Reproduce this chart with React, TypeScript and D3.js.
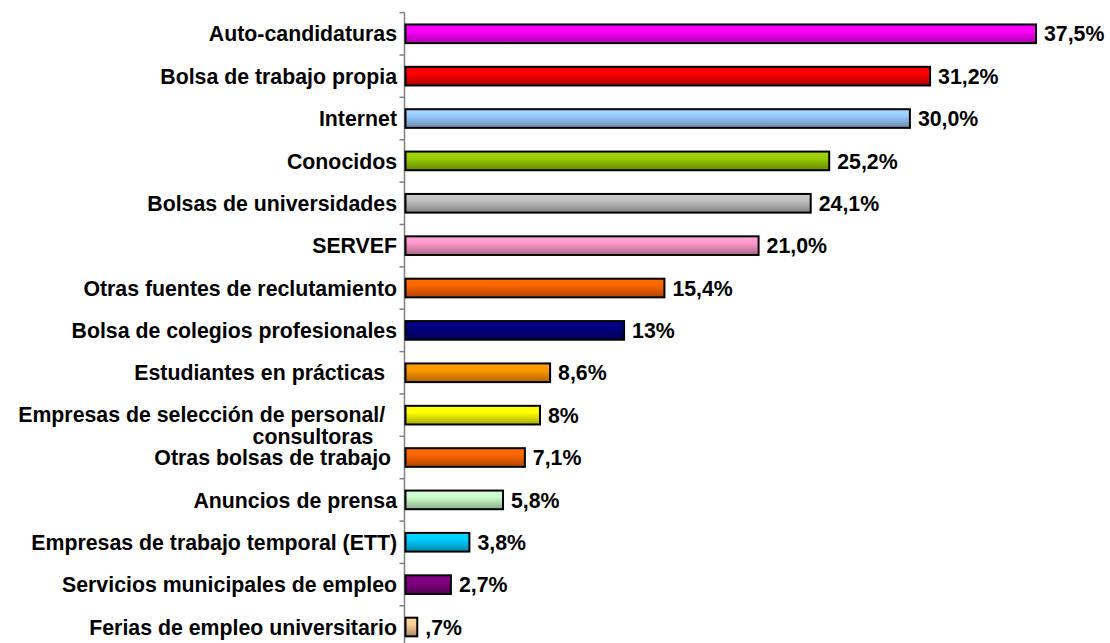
import React, { useRef, useEffect } from 'react';
import * as d3 from 'd3';

const WIDTH = 1110;
const HEIGHT = 643;

const categories = [
  'Auto-candidaturas',
  'Bolsa de trabajo propia',
  'Internet',
  'Conocidos',
  'Bolsas de universidades',
  'SERVEF',
  'Otras fuentes de reclutamiento',
  'Bolsa de colegios profesionales',
  'Estudiantes en prácticas  ',
  'Empresas de selección de personal/  \nconsultoras    ',
  'Otras bolsas de trabajo ',
  'Anuncios de prensa',
  'Empresas de trabajo temporal (ETT)',
  'Servicios municipales de empleo',
  'Ferias de empleo universitario',
];

const values = [37.5, 31.2, 30.0, 25.2, 24.1, 21.0, 15.4, 13, 8.6, 8, 7.1, 5.8, 3.8, 2.7, 0.7];

const valueLabels = [
  '37,5%', '31,2%', '30,0%', '25,2%', '24,1%', '21,0%', '15,4%', '13%',
  '8,6%', '8%', '7,1%', '5,8%', '3,8%', '2,7%', ',7%',
];

const colors = [
  '#ff00ff', '#ff0000', '#99ccff', '#99cc00', '#c0c0c0', '#ff99cc', '#ff6600',
  '#000080', '#ff9900', '#ffff00', '#ff6600', '#ccffcc', '#00ccff', '#800080', '#ffcc99',
];

const FONT = '"Liberation Sans", Arial, sans-serif';
const FS = 21.3;

export default function App() {
  const svgRef = useRef<SVGSVGElement>(null);

  useEffect(() => {
    const svg = d3.select(svgRef.current);
    svg.selectAll('*').remove();

    const x = d3.scaleLinear().domain([0, 37.5]).range([405.5, 1036]);
    const y = d3.scaleBand<number>()
      .domain(d3.range(categories.length))
      .range([12.6, 648.2])
      .paddingInner(0.56)
      .paddingOuter(0.28);
    const step = y.step();

    const defs = svg.append('defs');
    colors.forEach((c, i) => {
      const grad = defs.append('linearGradient')
        .attr('id', `g${i}`).attr('x1', 0).attr('y1', 0).attr('x2', 0).attr('y2', 1);
      const base = d3.color(c)!;
      grad.append('stop').attr('offset', '0%').attr('stop-color', base.brighter(0.2).formatHex());
      grad.append('stop').attr('offset', '35%').attr('stop-color', c);
      grad.append('stop').attr('offset', '100%').attr('stop-color', base.darker(1.1).formatHex());
    });

    // axis line and ticks
    const axis = svg.append('g');
    axis.append('line')
      .attr('x1', x(0) - 1).attr('x2', x(0) - 1)
      .attr('y1', y.range()[0]).attr('y2', y.range()[1])
      .attr('stroke', '#808080').attr('stroke-width', 1.5);
    d3.range(categories.length + 1).forEach(i => {
      const yy = y.range()[0] + i * step;
      axis.append('line')
        .attr('x1', x(0) - 6).attr('x2', x(0) - 1)
        .attr('y1', yy).attr('y2', yy)
        .attr('stroke', '#808080').attr('stroke-width', 1.5);
    });

    // bars
    svg.append('g').selectAll('rect')
      .data(values)
      .join('rect')
      .attr('x', x(0))
      .attr('y', (_, i) => y(i)!)
      .attr('width', d => x(d) - x(0))
      .attr('height', y.bandwidth())
      .attr('fill', (_, i) => `url(#g${i})`)
      .attr('stroke', '#000')
      .attr('stroke-width', 2);

    // value labels
    svg.append('g').selectAll('text')
      .data(values)
      .join('text')
      .attr('x', d => x(d) + 8)
      .attr('y', (_, i) => y(i)! + y.bandwidth() / 2)
      .attr('dy', '0.36em')
      .attr('font-family', FONT)
      .attr('font-weight', 'bold')
      .attr('font-size', FS)
      .attr('fill', '#000')
      .text((_, i) => valueLabels[i]);

    // category labels, wrapped one as tspans in a single text
    const lab = svg.append('g');
    categories.forEach((c, i) => {
      const lines = c.split('\n');
      const cy = y(i)! + y.bandwidth() / 2 - (lines.length > 1 ? 1 : 0);
      const t = lab.append('text')
        .attr('x', 397)
        .attr('y', cy)
        .attr('text-anchor', 'end')
        .attr('font-family', FONT)
        .attr('font-weight', 'bold')
        .attr('font-size', FS)
        .attr('fill', '#000')
        .style('white-space', 'pre');
      lines.forEach((ln, k) => {
        t.append('tspan')
          .attr('x', 397)
          .attr('y', cy + k * 22)
          .attr('dy', '0.36em')
          .text(ln);
      });
    });
  }, []);

  return (
    <svg ref={svgRef} width={WIDTH} height={HEIGHT}
      style={{ position: 'absolute', left: 0, top: 0, background: '#fff' }} />
  );
}
